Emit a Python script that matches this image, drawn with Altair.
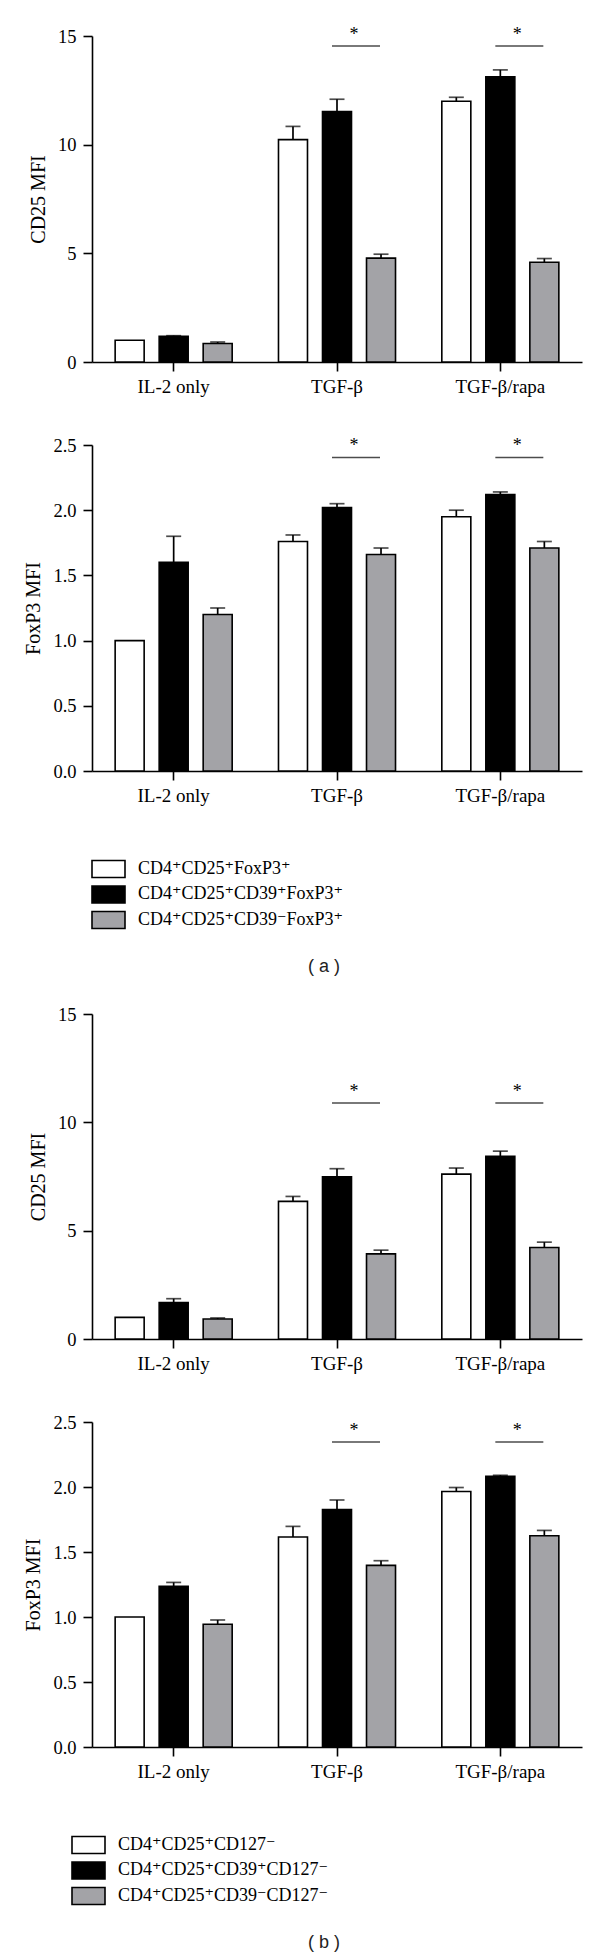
import altair as alt
import pandas as pd

SERIF = "Liberation Serif, DejaVu Serif, serif"
SANS = "Liberation Sans, Arial, sans-serif"

categories = ["IL-2 only", "TGF-β", "TGF-β/rapa"]
sig_categories = ["TGF-β", "TGF-β/rapa"]
series_keys = ["s1", "s2", "s3"]
series_colors = ["#ffffff", "#000000", "#a3a3a7"]

labels_a = ["CD4⁺CD25⁺FoxP3⁺", "CD4⁺CD25⁺CD39⁺FoxP3⁺", "CD4⁺CD25⁺CD39⁻FoxP3⁺"]
labels_b = ["CD4⁺CD25⁺CD127⁻", "CD4⁺CD25⁺CD39⁺CD127⁻", "CD4⁺CD25⁺CD39⁻CD127⁻"]

# (a) CD25 MFI  -- values per series, across categories
a_cd25_white = [1.00, 10.23, 12.00]
a_cd25_white_err = [0.00, 0.61, 0.18]
a_cd25_black = [1.18, 11.52, 13.12]
a_cd25_black_err = [0.03, 0.57, 0.32]
a_cd25_gray = [0.85, 4.78, 4.59]
a_cd25_gray_err = [0.07, 0.18, 0.17]
a_cd25_sig = 14.54

# (a) FoxP3 MFI
a_foxp3_white = [1.00, 1.76, 1.95]
a_foxp3_white_err = [0.00, 0.05, 0.05]
a_foxp3_black = [1.60, 2.02, 2.12]
a_foxp3_black_err = [0.20, 0.03, 0.02]
a_foxp3_gray = [1.20, 1.66, 1.71]
a_foxp3_gray_err = [0.05, 0.05, 0.05]
a_foxp3_sig = 2.405

# (b) CD25 MFI
b_cd25_white = [1.00, 6.35, 7.61]
b_cd25_white_err = [0.00, 0.23, 0.28]
b_cd25_black = [1.68, 7.49, 8.43]
b_cd25_black_err = [0.18, 0.37, 0.24]
b_cd25_gray = [0.92, 3.93, 4.22]
b_cd25_gray_err = [0.05, 0.17, 0.25]
b_cd25_sig = 10.89

# (b) FoxP3 MFI
b_foxp3_white = [1.00, 1.615, 1.965]
b_foxp3_white_err = [0.00, 0.082, 0.031]
b_foxp3_black = [1.236, 1.827, 2.083]
b_foxp3_black_err = [0.030, 0.073, 0.007]
b_foxp3_gray = [0.944, 1.397, 1.625]
b_foxp3_gray_err = [0.033, 0.036, 0.041]
b_foxp3_sig = 2.346

cd25_ticks = [0, 5, 10, 15]
foxp3_ticks = [0.0, 0.5, 1.0, 1.5, 2.0, 2.5]

PW = 490

fill_scale = alt.Scale(domain=series_keys, range=series_colors)


def panel_df(vals, errs):
    rows = []
    for k, vl, el in zip(series_keys, vals, errs):
        for c, v, e in zip(categories, vl, el):
            rows.append({"cat": c, "series": k, "value": v, "hi": v + e, "err": e})
    return pd.DataFrame(rows)


def make_panel(vals, errs, sig, y_title, y_max, y_ticks, y_fmt, height):
    df = panel_df(vals, errs)
    sig_df = pd.DataFrame({"cat": sig_categories, "level": [sig] * len(sig_categories)})
    x_scale = alt.Scale(domain=categories, paddingInner=0, paddingOuter=0)
    x_axis = alt.Axis(title=None, labelAngle=0, labelFontSize=19, labelPadding=6)
    x = alt.X("cat:N", sort=categories, scale=x_scale, axis=x_axis)
    xoff = alt.XOffset("series:N", sort=series_keys,
                       scale=alt.Scale(domain=series_keys, paddingInner=0.341, paddingOuter=0.526))
    y_scale = alt.Scale(domain=[0, y_max], nice=False, zero=True)
    y_axis = alt.Axis(title=y_title, values=y_ticks, format=y_fmt)
    bars = alt.Chart(df).mark_bar(stroke="black", strokeWidth=1.6).encode(
        x=x, xOffset=xoff,
        y=alt.Y("value:Q", scale=y_scale, axis=y_axis),
        fill=alt.Fill("series:N", scale=fill_scale, legend=None),
    )
    base_err = alt.Chart(df).transform_filter("datum.err > 0")
    rules = base_err.mark_rule(color="black", strokeWidth=1.7).encode(
        x=x, xOffset=xoff,
        y=alt.Y("value:Q", scale=y_scale, axis=y_axis),
        y2="hi:Q",
    )
    caps = base_err.mark_tick(color="black", orient="horizontal", size=15, thickness=1.7).encode(
        x=x, xOffset=xoff,
        y=alt.Y("hi:Q", scale=y_scale, axis=y_axis),
    )
    sig_line = alt.Chart(sig_df).mark_tick(
        color="black", orient="horizontal", size=48, thickness=1.5, xOffset=19
    ).encode(x=x, y=alt.Y("level:Q", scale=y_scale, axis=y_axis))
    stars = alt.Chart(sig_df).mark_text(
        text="*", font=SERIF, fontSize=18, dx=17, dy=-6, baseline="alphabetic", color="black"
    ).encode(x=x, y=alt.Y("level:Q", scale=y_scale, axis=y_axis))
    return alt.layer(bars, rules, caps, sig_line, stars).properties(width=PW, height=height)


def make_legend(labels, x0, title_text):
    ldf = pd.DataFrame({"series": series_keys, "label": labels})
    yl = alt.Y("series:N", sort=series_keys, axis=None,
               scale=alt.Scale(domain=series_keys, paddingInner=0.333, paddingOuter=0.176, align=0.72))
    sw = alt.Chart(ldf).mark_rect(stroke="black", strokeWidth=1.6).encode(
        x=alt.value(x0), x2=alt.value(x0 + 33), y=yl,
        fill=alt.Fill("series:N", scale=fill_scale, legend=None),
    )
    tx = alt.Chart(ldf).mark_text(align="left", baseline="middle", font=SERIF, fontSize=18, color="black").encode(
        x=alt.value(x0 + 46), y=yl, text="label:N"
    )
    return alt.layer(sw, tx).properties(
        width=PW, height=77,
        title=alt.TitleParams(title_text, orient="bottom", anchor="middle", dx=-13, offset=27,
                              font=SANS, fontSize=18, fontWeight="normal", color="#222222"),
    )


p1 = make_panel([a_cd25_white, a_cd25_black, a_cd25_gray],
                [a_cd25_white_err, a_cd25_black_err, a_cd25_gray_err],
                a_cd25_sig, "CD25 MFI", 15, cd25_ticks, "d", 326)
p2 = make_panel([a_foxp3_white, a_foxp3_black, a_foxp3_gray],
                [a_foxp3_white_err, a_foxp3_black_err, a_foxp3_gray_err],
                a_foxp3_sig, "FoxP3 MFI", 2.5, foxp3_ticks, ".1f", 326)
legA = make_legend(labels_a, 0, "( a )")
p3 = make_panel([b_cd25_white, b_cd25_black, b_cd25_gray],
                [b_cd25_white_err, b_cd25_black_err, b_cd25_gray_err],
                b_cd25_sig, "CD25 MFI", 15, cd25_ticks, "d", 325)
p4 = make_panel([b_foxp3_white, b_foxp3_black, b_foxp3_gray],
                [b_foxp3_white_err, b_foxp3_black_err, b_foxp3_gray_err],
                b_foxp3_sig, "FoxP3 MFI", 2.5, foxp3_ticks, ".1f", 325)
legB = make_legend(labels_b, -20, "( b )")

chart = alt.vconcat(p1, p2, legA, p3, p4, legB, spacing=83, bounds="flush").resolve_scale(
    y="independent"
).properties(
    padding={"left": 15, "top": 17, "right": 5, "bottom": 5},
    background="white",
).configure_view(stroke=None).configure_axis(
    grid=False,
    domainColor="black", domainWidth=1.6,
    tickColor="black", tickWidth=1.6, tickSize=9,
    labelFont=SERIF, labelFontSize=18.5, labelColor="black", labelPadding=7,
    titleFont=SERIF, titleFontSize=20, titleFontWeight="normal", titleColor="black", titlePadding=9,
)

chart.save("out.html", embed_options={"renderer": "svg", "actions": False})
